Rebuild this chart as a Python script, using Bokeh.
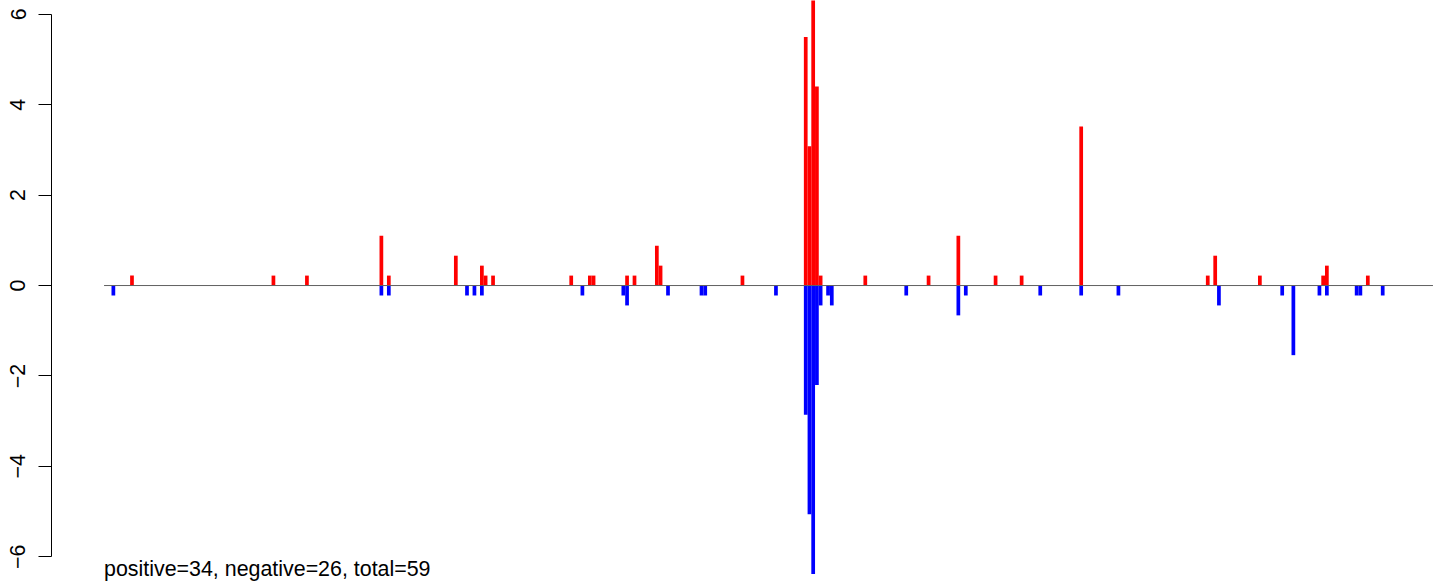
from bokeh.plotting import figure
from bokeh.models import Range1d
from bokeh.core.properties import value
from bokeh.embed import file_html
from bokeh.resources import INLINE

# bin positions (index along the x extent) and values
pos_bins = [7, 45, 54, 74, 76, 94, 101, 102, 104, 125, 130, 131, 140, 142, 148, 149, 171,
            188, 189, 190, 191, 192, 204, 221, 229, 239, 246, 262, 296, 298, 310, 327, 328, 339]
pos_vals = [0.22, 0.22, 0.22, 1.1, 0.22, 0.66, 0.44, 0.22, 0.22, 0.22, 0.22, 0.22, 0.22, 0.22, 0.88, 0.44, 0.22,
            5.5, 3.08, 6.38, 4.4, 0.22, 0.22, 0.22, 1.1, 0.22, 0.22, 3.52, 0.22, 0.66, 0.22, 0.22, 0.44, 0.22]

neg_bins = [2, 74, 76, 97, 99, 101, 128, 139, 140, 151, 160, 161, 180,
            188, 189, 190, 191, 192, 194, 195, 215, 229, 231, 251, 262, 272,
            299, 316, 319, 326, 328, 336, 337, 343]
neg_vals = [-0.22, -0.22, -0.22, -0.22, -0.22, -0.22, -0.22, -0.22, -0.44, -0.22, -0.22, -0.22, -0.22,
            -2.86, -5.06, -6.38, -2.2, -0.44, -0.22, -0.44, -0.22, -0.66, -0.22, -0.22, -0.22, -0.22,
            -0.44, -0.22, -1.54, -0.22, -0.22, -0.22, -0.22, -0.22]

n_bins = 357
y_ticks = [-6, -4, -2, 0, 2, 4, 6]
summary = "positive=34, negative=26, total=59"

FONT = "Liberation Sans"

p = figure(width=1444, height=585, output_backend="svg", toolbar_location=None,
           x_range=Range1d(-14.12, 360.1), y_range=Range1d(-6.635, 6.305),
           x_axis_location=None,
           min_border_left=51, min_border_right=0, min_border_top=0, min_border_bottom=0)
p.grid.visible = False
p.outline_line_color = None
p.background_fill_color = "white"
p.border_fill_color = "white"

p.quad(left=pos_bins, right=[b + 1 for b in pos_bins], bottom=0, top=pos_vals,
       fill_color="#ff0000", line_color=None)
p.quad(left=neg_bins, right=[b + 1 for b in neg_bins], bottom=neg_vals, top=0,
       fill_color="#0000ff", line_color=None)
p.segment(x0=[0], y0=[0], x1=[n_bins], y1=[0], line_color="#606060", line_width=1)

p.text(x=[0], y=[-6.26], text=[summary], text_font=value(FONT), text_font_size="21.4px",
       text_color="black", text_align="left", text_baseline="alphabetic")

ax = p.yaxis[0]
ax.ticker = y_ticks
ax.bounds = (-6, 6)
ax.major_label_orientation = "vertical"
ax.major_tick_out = 13
ax.major_tick_in = 0
ax.minor_tick_out = 0
ax.minor_tick_in = 0
ax.major_label_standoff = 13
ax.axis_line_color = "black"
ax.major_tick_line_color = "black"
ax.major_label_text_font = FONT
ax.major_label_text_font_size = "21.4px"
ax.major_label_text_color = "black"

open("out.html", "w").write(file_html(p, INLINE))
